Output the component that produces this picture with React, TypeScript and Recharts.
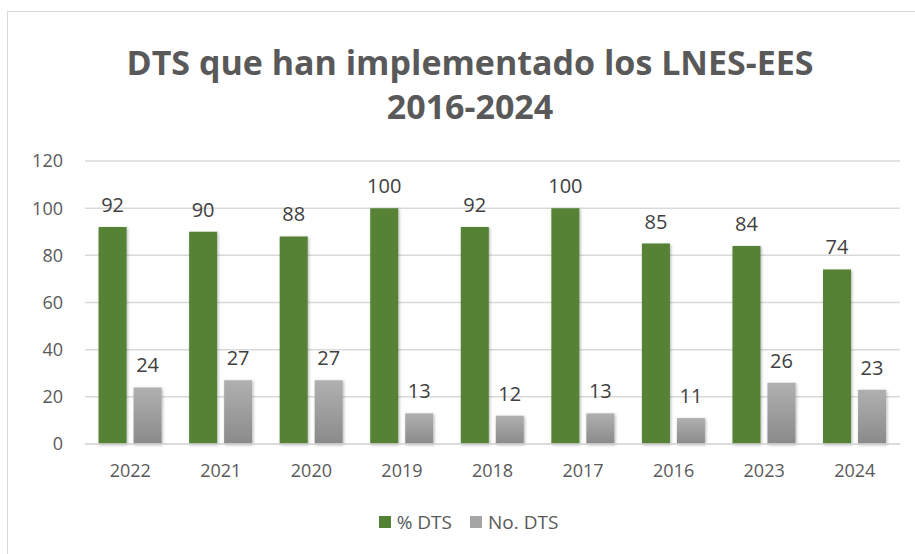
import { Bar, BarChart, CartesianGrid, LabelList, Legend, XAxis, YAxis } from "recharts"

const years = ["2022", "2021", "2020", "2019", "2018", "2017", "2016", "2023", "2024"]
const pctDts = [92, 90, 88, 100, 92, 100, 85, 84, 74]
const numDts = [24, 27, 27, 13, 12, 13, 11, 26, 23]
const yTicks = [0, 20, 40, 60, 80, 100, 120]

const data = years.map((y, i) => ({ year: y, pct: pctDts[i], num: numDts[i] }))

const font = "'Open Sans', sans-serif"

const legendItems = [
    { label: "% DTS", color: "#548235" },
    { label: "No. DTS", color: "#a5a5a5" },
]

function LegendBox() {
    return (
        <div style={{ display: "flex", justifyContent: "center", alignItems: "center", fontSize: 19, color: "#595959", fontFamily: font }}>
            {legendItems.map((it) => (
                <div key={it.label} style={{ display: "flex", alignItems: "center", marginRight: 18 }}>
                    <span style={{ display: "inline-block", width: 12, height: 12, background: it.color, marginRight: 6 }} />
                    <span>{it.label}</span>
                </div>
            ))}
        </div>
    )
}

export default function App() {
    return (
        <div style={{ position: "absolute", left: 0, top: 0, width: 915, height: 554, background: "#fff", fontFamily: font }}>
            <div style={{ position: "absolute", left: 7, top: 11, width: 920, height: 560, border: "1px solid #d9d9d9" }} />
            <div
                style={{
                    position: "absolute",
                    left: 0,
                    width: 940,
                    top: 40,
                    textAlign: "center",
                    fontSize: 34,
                    fontWeight: 700,
                    color: "#595959",
                    lineHeight: "44px",
                }}
            >
                DTS que han implementado los LNES-EES
                <br />
                2016-2024
            </div>
            <div style={{ position: "absolute", left: 0, top: 0 }}>
                <BarChart
                    width={915}
                    height={554}
                    data={data}
                    margin={{ top: 161, right: 15, bottom: 44, left: 0 }}
                    barGap={7}
                    barCategoryGap="15%"
                >
                    <defs>
                        <linearGradient id="grayFill" x1="0" y1="0" x2="0" y2="1">
                            <stop offset="0%" stopColor="#b0b0b0" />
                            <stop offset="100%" stopColor="#8a8a8a" />
                        </linearGradient>
                        <filter id="shadow" x="-30%" y="-10%" width="160%" height="120%">
                            <feDropShadow dx="1" dy="1" stdDeviation="1.5" floodColor="#000" floodOpacity="0.3" />
                        </filter>
                    </defs>
                    <CartesianGrid vertical={false} stroke="#d9d9d9" strokeWidth={1.5} />
                    <XAxis
                        dataKey="year"
                        axisLine={{ stroke: "#d9d9d9", strokeWidth: 1.5 }}
                        tickLine={false}
                        tickMargin={14}
                        height={40}
                        tick={{ fill: "#595959", fontSize: 18, fontFamily: font }}
                    />
                    <YAxis
                        domain={[0, 120]}
                        ticks={yTicks}
                        width={85}
                        axisLine={false}
                        tickLine={false}
                        tickSize={0}
                        tickMargin={22}
                        tick={{ fill: "#595959", fontSize: 18, fontFamily: font }}
                    />
                    <Legend content={<LegendBox />} wrapperStyle={{ left: 20, width: 915, top: 509 }} />
                    <Bar dataKey="pct" name="% DTS" fill="#548235" filter="url(#shadow)" isAnimationActive={false}>
                        <LabelList dataKey="pct" position="top" offset={15} fill="#404040" fontSize={20} fontFamily={font} />
                    </Bar>
                    <Bar dataKey="num" name="No. DTS" fill="url(#grayFill)" filter="url(#shadow)" isAnimationActive={false}>
                        <LabelList dataKey="num" position="top" offset={15} fill="#404040" fontSize={20} fontFamily={font} />
                    </Bar>
                </BarChart>
            </div>
        </div>
    )
}
